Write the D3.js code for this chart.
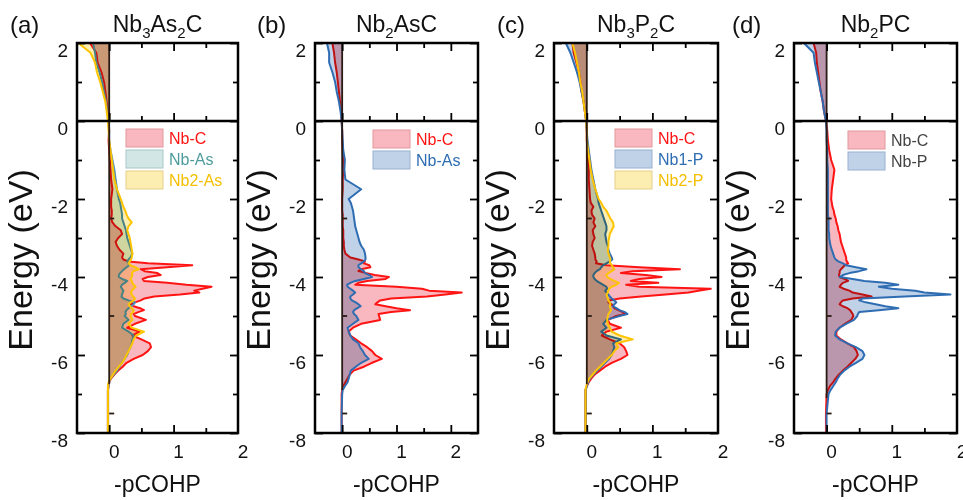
<!DOCTYPE html>
<html>
<head>
<meta charset="utf-8">
<script src="https://cdn.jsdelivr.net/npm/d3@7"></script>
<style>
  body { margin: 0; background: #fff; }
  svg { display: block; font-family: "Liberation Sans", Arial, sans-serif; }
</style>
</head>
<body>
<svg id="chart" width="963" height="500"></svg>
<script>
// Energy grid (eV), shared by every curve.
const energy = [2, 1.75, 1.5, 1.25, 1, 0.75, 0.5, 0.25, 0,
  -0.25, -0.5, -0.75, -1, -1.25, -1.5, -1.75, -2,
  -2.1, -2.2, -2.3, -2.4, -2.5, -2.6, -2.7, -2.8, -2.9, -3, -3.1, -3.2, -3.3, -3.4, -3.5,
  -3.55, -3.6, -3.65, -3.7, -3.75, -3.8, -3.85, -3.9, -3.95, -4, -4.05, -4.1, -4.15, -4.2,
  -4.25, -4.3, -4.35, -4.4, -4.45, -4.5, -4.55, -4.6, -4.65, -4.7, -4.75, -4.8, -4.85, -4.9, -4.95, -5,
  -5.1, -5.2, -5.3, -5.4, -5.5, -5.6, -5.7, -5.8, -5.9, -6, -6.1, -6.2, -6.3, -6.4, -6.5, -6.6, -6.7, -6.8, -6.9, -7,
  -7.5, -8];

// (a) Nb3As2C
const aNbC = [-0.3, -0.2, -0.18, -0.12, -0.08, -0.06, -0.04, -0.02, -0.01,
  0, -0.01, 0, 0.01, 0.02, 0.03, 0.05, 0.03,
  0.03, 0.03, 0.04, 0.04, 0.03, 0.05, 0.1, 0.18, 0.2, 0.14, 0.1, 0.12, 0.16, 0.22, 0.2,
  0.22, 0.3, 0.6, 1.29, 0.9, 0.49, 0.55, 0.75, 0.8, 0.6, 0.52, 0.54, 0.9, 1.2, 1.59,
  1.45, 1.32, 1.4, 1.1, 0.7, 0.55, 0.49, 0.4, 0.34, 0.38, 0.48, 0.54, 0.45, 0.38, 0.4,
  0.57, 0.4, 0.28, 0.47, 0.36, 0.5, 0.63, 0.65, 0.6, 0.52, 0.38, 0.27, 0.21, 0.14, 0.08, 0.03, 0, -0.01, -0.02, -0.02,
  -0.02, -0.02];
const aNbAs = [-0.25, -0.22, -0.2, -0.15, -0.11, -0.08, -0.05, -0.03, -0.01,
  0, 0, 0.02, 0.05, 0.08, 0.1, 0.12, 0.15,
  0.17, 0.18, 0.19, 0.2, 0.2, 0.22, 0.24, 0.26, 0.27, 0.28, 0.3, 0.32, 0.34, 0.36, 0.33,
  0.3, 0.28, 0.3, 0.31, 0.27, 0.23, 0.2, 0.17, 0.15, 0.15, 0.2, 0.28, 0.24, 0.2, 0.18,
  0.2, 0.22, 0.21, 0.2, 0.19, 0.22, 0.3, 0.4, 0.38, 0.34, 0.3, 0.27, 0.25, 0.26, 0.24,
  0.3, 0.22, 0.2, 0.3, 0.38, 0.36, 0.35, 0.33, 0.3, 0.28, 0.24, 0.2, 0.16, 0.12, 0.07, 0.02, 0, -0.01, -0.02, -0.02,
  -0.02, -0.02];
const aNb2As = [-0.48, -0.29, -0.22, -0.19, -0.14, -0.1, -0.06, -0.04, -0.02,
  -0.01, 0, 0.02, 0.04, 0.06, 0.08, 0.12, 0.18,
  0.2, 0.22, 0.25, 0.27, 0.3, 0.35, 0.3, 0.28, 0.3, 0.32, 0.33, 0.34, 0.35, 0.36, 0.35,
  0.34, 0.32, 0.3, 0.33, 0.4, 0.46, 0.38, 0.35, 0.36, 0.35, 0.33, 0.35, 0.36, 0.38, 0.41,
  0.38, 0.35, 0.34, 0.35, 0.37, 0.4, 0.38, 0.33, 0.3, 0.32, 0.35, 0.38, 0.37, 0.34, 0.33,
  0.36, 0.3, 0.35, 0.54, 0.42, 0.38, 0.36, 0.33, 0.3, 0.27, 0.24, 0.2, 0.15, 0.1, 0.06, 0.02, -0.01, -0.02, -0.02, -0.02,
  -0.02, -0.02];

// (b) Nb2AsC
const bNbC = [-0.18, -0.15, -0.13, -0.1, -0.08, -0.06, -0.04, -0.02, -0.01,
  0, 0, 0.01, 0.02, 0.02, 0.01, 0.01, 0,
  0, 0, 0, 0.01, 0.01, 0.01, 0.01, 0.02, 0.02, 0.02, 0.03, 0.03, 0.04, 0.06, 0.15,
  0.3, 0.42, 0.4, 0.5, 0.52, 0.35, 0.3, 0.45, 0.6, 0.86, 0.8, 0.46, 0.3, 0.24, 1.0,
  1.47, 1.6, 2.2, 1.9, 1.56, 0.9, 0.7, 0.65, 0.61, 0.8, 1.0, 1.25, 0.9, 0.67, 0.68,
  0.7, 0.35, 0.2, 0.12, 0.15, 0.25, 0.35, 0.46, 0.55, 0.61, 0.73, 0.55, 0.4, 0.21, 0.14, 0.1, 0.06, 0.02, 0, -0.01,
  -0.01, -0.01];
const bNbAs = [-0.28, -0.24, -0.24, -0.18, -0.13, -0.1, -0.06, -0.03, -0.01,
  0, 0.01, 0.02, 0.05, 0.04, 0.06, 0.35, 0.12,
  0.16, 0.18, 0.2, 0.21, 0.22, 0.23, 0.24, 0.26, 0.28, 0.3, 0.32, 0.35, 0.4, 0.42, 0.43,
  0.43, 0.4, 0.35, 0.3, 0.3, 0.35, 0.4, 0.42, 0.5, 0.55, 0.4, 0.24, 0.15, 0.09, 0.1,
  0.15, 0.2, 0.24, 0.2, 0.15, 0.15, 0.18, 0.25, 0.3, 0.34, 0.28, 0.22, 0.2, 0.22, 0.26,
  0.3, 0.2, 0.1, 0.12, 0.15, 0.2, 0.3, 0.33, 0.38, 0.42, 0.49, 0.35, 0.25, 0.16, 0.14, 0.12, 0.1, 0.05, 0.01, 0,
  -0.01, -0.01];

// (c) Nb3P2C
const cNbC = [-0.22, -0.2, -0.16, -0.12, -0.1, -0.08, -0.05, -0.03, -0.01,
  0, 0, 0.01, 0.02, 0.03, 0.03, 0.04, 0.05,
  0.06, 0.1, 0.07, 0.08, 0.12, 0.1, 0.13, 0.09, 0.1, 0.12, 0.09, 0.08, 0.1, 0.12, 0.13,
  0.13, 0.15, 0.14, 0.3, 0.8, 1.42, 0.7, 0.52, 0.9, 1.14, 0.8, 0.67, 1.09, 0.6, 0.8,
  1.89, 1.7, 1.55, 1.2, 0.83, 0.5, 0.34, 0.33, 0.38, 0.4, 0.42, 0.48, 0.55, 0.59, 0.45,
  0.32, 0.35, 0.52, 0.3, 0.23, 0.35, 0.5, 0.57, 0.6, 0.62, 0.52, 0.38, 0.28, 0.2, 0.12, 0.07, 0.03, 0, -0.02, -0.02,
  -0.02, -0.02];
const cNb1P = [-0.32, -0.25, -0.2, -0.15, -0.11, -0.08, -0.05, -0.03, -0.01,
  0, 0.01, 0.03, 0.05, 0.07, 0.1, 0.13, 0.17,
  0.18, 0.2, 0.22, 0.24, 0.26, 0.28, 0.3, 0.3, 0.28, 0.29, 0.3, 0.32, 0.33, 0.35, 0.38,
  0.39, 0.35, 0.3, 0.25, 0.22, 0.2, 0.15, 0.12, 0.1, 0.1, 0.12, 0.15, 0.2, 0.25, 0.3,
  0.31, 0.28, 0.3, 0.33, 0.35, 0.38, 0.42, 0.45, 0.42, 0.4, 0.45, 0.5, 0.58, 0.62, 0.5,
  0.3, 0.25, 0.3, 0.22, 0.3, 0.52, 0.4, 0.42, 0.4, 0.38, 0.34, 0.28, 0.22, 0.16, 0.1, 0.05, 0.02, 0, -0.02, -0.02,
  -0.02, -0.02];
const cNb2P = [-0.22, -0.18, -0.15, -0.12, -0.1, -0.07, -0.05, -0.03, -0.01,
  0, 0, 0.02, 0.04, 0.06, 0.09, 0.13, 0.18,
  0.22, 0.25, 0.3, 0.33, 0.36, 0.4, 0.41, 0.38, 0.35, 0.34, 0.33, 0.33, 0.32, 0.33, 0.35,
  0.36, 0.35, 0.36, 0.38, 0.4, 0.42, 0.38, 0.33, 0.3, 0.31, 0.36, 0.42, 0.49, 0.45, 0.38,
  0.34, 0.33, 0.32, 0.3, 0.31, 0.32, 0.33, 0.35, 0.36, 0.35, 0.36, 0.37, 0.35, 0.33, 0.32,
  0.31, 0.32, 0.35, 0.38, 0.5, 0.7, 0.45, 0.48, 0.42, 0.38, 0.32, 0.26, 0.2, 0.14, 0.09, 0.04, 0.01, -0.01, -0.02, -0.02,
  -0.02, -0.02];

// (d) Nb2PC
const dNbC = [-0.2, -0.16, -0.15, -0.13, -0.11, -0.09, -0.06, -0.04, -0.01,
  0.01, 0.02, 0.04, 0.07, 0.12, 0.1, 0.08, 0.07,
  0.08, 0.09, 0.11, 0.12, 0.14, 0.15, 0.17, 0.18, 0.2, 0.21, 0.22, 0.24, 0.26, 0.28, 0.3,
  0.3, 0.31, 0.33, 0.28, 0.25, 0.22, 0.2, 0.2, 0.19, 0.2, 0.28, 0.33, 0.25, 0.22, 0.2,
  0.26, 0.35, 0.4, 0.55, 0.69, 0.4, 0.25, 0.22, 0.2, 0.25, 0.32, 0.36, 0.38, 0.4, 0.41,
  0.38, 0.28, 0.2, 0.15, 0.15, 0.22, 0.32, 0.42, 0.46, 0.48, 0.44, 0.38, 0.32, 0.25, 0.19, 0.14, 0.1, 0.05, 0.02, 0,
  -0.01, -0.01];
const dNbP = [-0.35, -0.2, -0.18, -0.15, -0.12, -0.09, -0.06, -0.04, -0.01,
  0, 0, 0.01, 0.01, 0.02, 0.02, 0.02, 0.02,
  0.02, 0.02, 0.02, 0.02, 0.03, 0.03, 0.03, 0.03, 0.04, 0.04, 0.05, 0.06, 0.08, 0.1, 0.12,
  0.14, 0.18, 0.25, 0.3, 0.45, 0.61, 0.5, 0.35, 0.25, 0.2, 0.4, 0.58, 0.9, 1.1, 0.8,
  1.0, 1.36, 1.5, 1.9, 1.2, 0.55, 0.5, 0.6, 0.75, 0.9, 1.1, 0.8, 0.5, 0.48, 0.47,
  0.42, 0.3, 0.2, 0.14, 0.13, 0.2, 0.32, 0.45, 0.55, 0.58, 0.55, 0.45, 0.35, 0.27, 0.21, 0.17, 0.14, 0.1, 0.06, 0.03,
  0, 0];

// Panel texts and series lists
const panelTags = ['(a)', '(b)', '(c)', '(d)'];
const panelTitles = ['Nb_3As_2C', 'Nb_2AsC', 'Nb_3P_2C', 'Nb_2PC'];
const xMaxes = [2, 2.5, 2, 2];
const baseEnds = [-6.75, -6.9, -6.75, -7.1];
const seriesNames = [['Nb-C', 'Nb-As', 'Nb2-As'], ['Nb-C', 'Nb-As'], ['Nb-C', 'Nb1-P', 'Nb2-P'], ['Nb-C', 'Nb-P']];
const seriesValues = [[aNbC, aNbAs, aNb2As], [bNbC, bNbAs], [cNbC, cNb1P, cNb2P], [dNbC, dNbP]];

// Colours
const RED = { line: '#ff1414', fill: '#f9b8bf', edge: '#e2979e', text: '#ff1414' };
const TEAL = { line: '#4a8cc0', fill: '#d2e6e6', edge: '#a8c6c6', text: '#4f9c9c' };
const BLUE = { line: '#2f6db3', fill: '#c0d2e8', edge: '#98b0d0', text: '#2f6db3' };
const GOLD = { line: '#ffc400', fill: '#fcedb0', edge: '#e6d08a', text: '#f5bf00' };
const seriesStyles = [[RED, TEAL, GOLD], [RED, BLUE], [RED, BLUE, GOLD], [RED, BLUE]];
const legendTextOverride = [null, null, null, '#444'];

// Layout
const lefts = [77, 315, 554, 794];
const rights = [238, 478, 718, 957];
const plotTop = 43, plotBottom = 433;
const legendDx = [49, 58, 61, 54];
const legendY = [129, 130, 129, 131];

const svg = d3.select('#chart');
svg.append('rect').attr('width', 963).attr('height', 500).attr('fill', '#fff');

const y = d3.scaleLinear().domain([-8, 2]).range([plotBottom, plotTop]);

function addTicks(g, axis) {
  g.call(axis);
  g.select('.domain').remove();
  g.selectAll('.tick text').remove();
  g.selectAll('.tick line').attr('stroke', '#000').attr('stroke-width', 1.8);
}

panelTags.forEach((tag, p) => {
  const left = lefts[p], right = rights[p];
  const x = d3.scaleLinear().domain([-0.5, xMaxes[p]]).range([left, right]);
  const g = svg.append('g');

  const clipId = `clip${p}`;
  svg.append('clipPath').attr('id', clipId)
    .append('rect').attr('x', left).attr('y', plotTop).attr('width', right - left).attr('height', plotBottom - plotTop);

  // Curves: each series fills then strokes; fills multiply onto what is below.
  const plot = g.append('g').attr('clip-path', `url(#${clipId})`);
  seriesValues[p].forEach((vals, s) => {
    const pts = energy.map((e, i) => [e, vals[i]]);
    const st = seriesStyles[p][s];
    plot.append('path')
      .datum(pts)
      .attr('d', d3.area().y(d => y(d[0])).x0(x(0)).x1(d => x(d[1])))
      .attr('fill', st.fill)
      .style('mix-blend-mode', 'multiply');
    plot.append('path')
      .datum(pts)
      .attr('d', d3.line().y(d => y(d[0])).x(d => x(d[1])))
      .attr('fill', 'none')
      .attr('stroke', st.line)
      .attr('stroke-width', 2)
      .attr('stroke-linejoin', 'round');
  });

  // Dark baseline at x = 0 with its small marks
  plot.append('line')
    .attr('x1', x(0)).attr('x2', x(0))
    .attr('y1', y(2)).attr('y2', y(baseEnds[p]))
    .attr('stroke', '#2a1c14').attr('stroke-width', 1.8);
  [-2.5, -5, -7.5].forEach(e => {
    plot.append('line')
      .attr('x1', x(0)).attr('x2', x(0) + 5)
      .attr('y1', y(e)).attr('y2', y(e))
      .attr('stroke', '#2a1c14').attr('stroke-width', 1.8);
  });

  // Ticks
  const xMajor = d3.range(0, xMaxes[p] + 0.01, 1).filter(v => v < xMaxes[p] - 0.01);
  const xMinor = d3.range(0.5, xMaxes[p], 1).filter(v => v < xMaxes[p] - 0.01);
  const yMajor = [2, 0, -2, -4, -6, -8];
  const yMinor = [1, -1, -3, -5, -7];

  addTicks(g.append('g').attr('transform', `translate(${left},0)`),
    d3.axisLeft(y).tickValues(yMajor).tickSize(-8));
  addTicks(g.append('g').attr('transform', `translate(${left},0)`),
    d3.axisLeft(y).tickValues(yMinor).tickSize(-5));
  addTicks(g.append('g').attr('transform', `translate(${right},0)`),
    d3.axisRight(y).tickValues(yMajor).tickSize(-8));
  addTicks(g.append('g').attr('transform', `translate(${right},0)`),
    d3.axisRight(y).tickValues(yMinor).tickSize(-5));
  [[plotBottom, d3.axisBottom], [y(0), d3.axisBottom], [plotTop, d3.axisTop]].forEach(([yy, ax]) => {
    addTicks(g.append('g').attr('transform', `translate(0,${yy})`),
      ax(x).tickValues(xMajor).tickSize(-8));
    addTicks(g.append('g').attr('transform', `translate(0,${yy})`),
      ax(x).tickValues(xMinor).tickSize(-5));
  });

  // Tick labels (plain hyphen as in the original)
  g.selectAll('.ylab').data(yMajor).join('text').attr('class', 'ylab')
    .attr('x', left - 9).attr('y', d => y(d) + 14)
    .attr('text-anchor', 'end').attr('font-size', 19).attr('fill', '#111')
    .text(d => String(d));
  g.selectAll('.xlab').data([0, 1, 2]).join('text').attr('class', 'xlab')
    .attr('x', d => x(d) + 5).attr('y', 458)
    .attr('text-anchor', 'middle').attr('font-size', 19).attr('fill', '#111')
    .text(d => String(d));

  // Frame: lower box and upper box share the line at E = 0
  g.append('rect')
    .attr('x', left).attr('y', plotTop).attr('width', right - left).attr('height', plotBottom - plotTop)
    .attr('fill', 'none').attr('stroke', '#000').attr('stroke-width', 2.5);
  g.append('line')
    .attr('x1', left).attr('x2', right).attr('y1', y(0)).attr('y2', y(0))
    .attr('stroke', '#000').attr('stroke-width', 2.5);

  // Legend
  const leg = g.append('g').attr('transform', `translate(${left + legendDx[p]},${legendY[p]})`);
  seriesNames[p].forEach((name, s) => {
    const st = seriesStyles[p][s];
    leg.append('rect')
      .attr('x', 0).attr('y', s * 21).attr('width', 37).attr('height', 18)
      .attr('fill', st.fill).attr('stroke', st.edge).attr('stroke-width', 1);
    leg.append('text')
      .attr('x', 43).attr('y', s * 21 + 15)
      .attr('font-size', 16)
      .attr('fill', legendTextOverride[p] || st.text)
      .text(name);
  });

  // Titles and axis names
  svg.append('text')
    .attr('x', [10, 257, 497, 732][p]).attr('y', 33)
    .attr('font-size', 24).attr('fill', '#111')
    .text(tag);
  const title = svg.append('text')
    .attr('x', (left + right) / 2).attr('y', 32)
    .attr('text-anchor', 'middle').attr('font-size', 23).attr('fill', '#111');
  let shift = 0;
  panelTitles[p].split(/(_\d)/).filter(t => t).forEach(t => {
    if (t.startsWith('_')) {
      title.append('tspan').attr('font-size', 15).attr('dy', 6).text(t.slice(1));
      shift = -6;
    } else {
      title.append('tspan').attr('dy', shift).text(t);
      shift = 0;
    }
  });
  svg.append('text')
    .attr('transform', `translate(${left - 45},${(plotTop + plotBottom) / 2 + 22}) rotate(-90)`)
    .attr('text-anchor', 'middle').attr('font-size', 34).attr('fill', '#111')
    .text('Energy (eV)');
  svg.append('text')
    .attr('x', (left + right) / 2).attr('y', 492)
    .attr('text-anchor', 'middle').attr('font-size', 23).attr('fill', '#111')
    .text('-pCOHP');
});
</script>
</body>
</html>
